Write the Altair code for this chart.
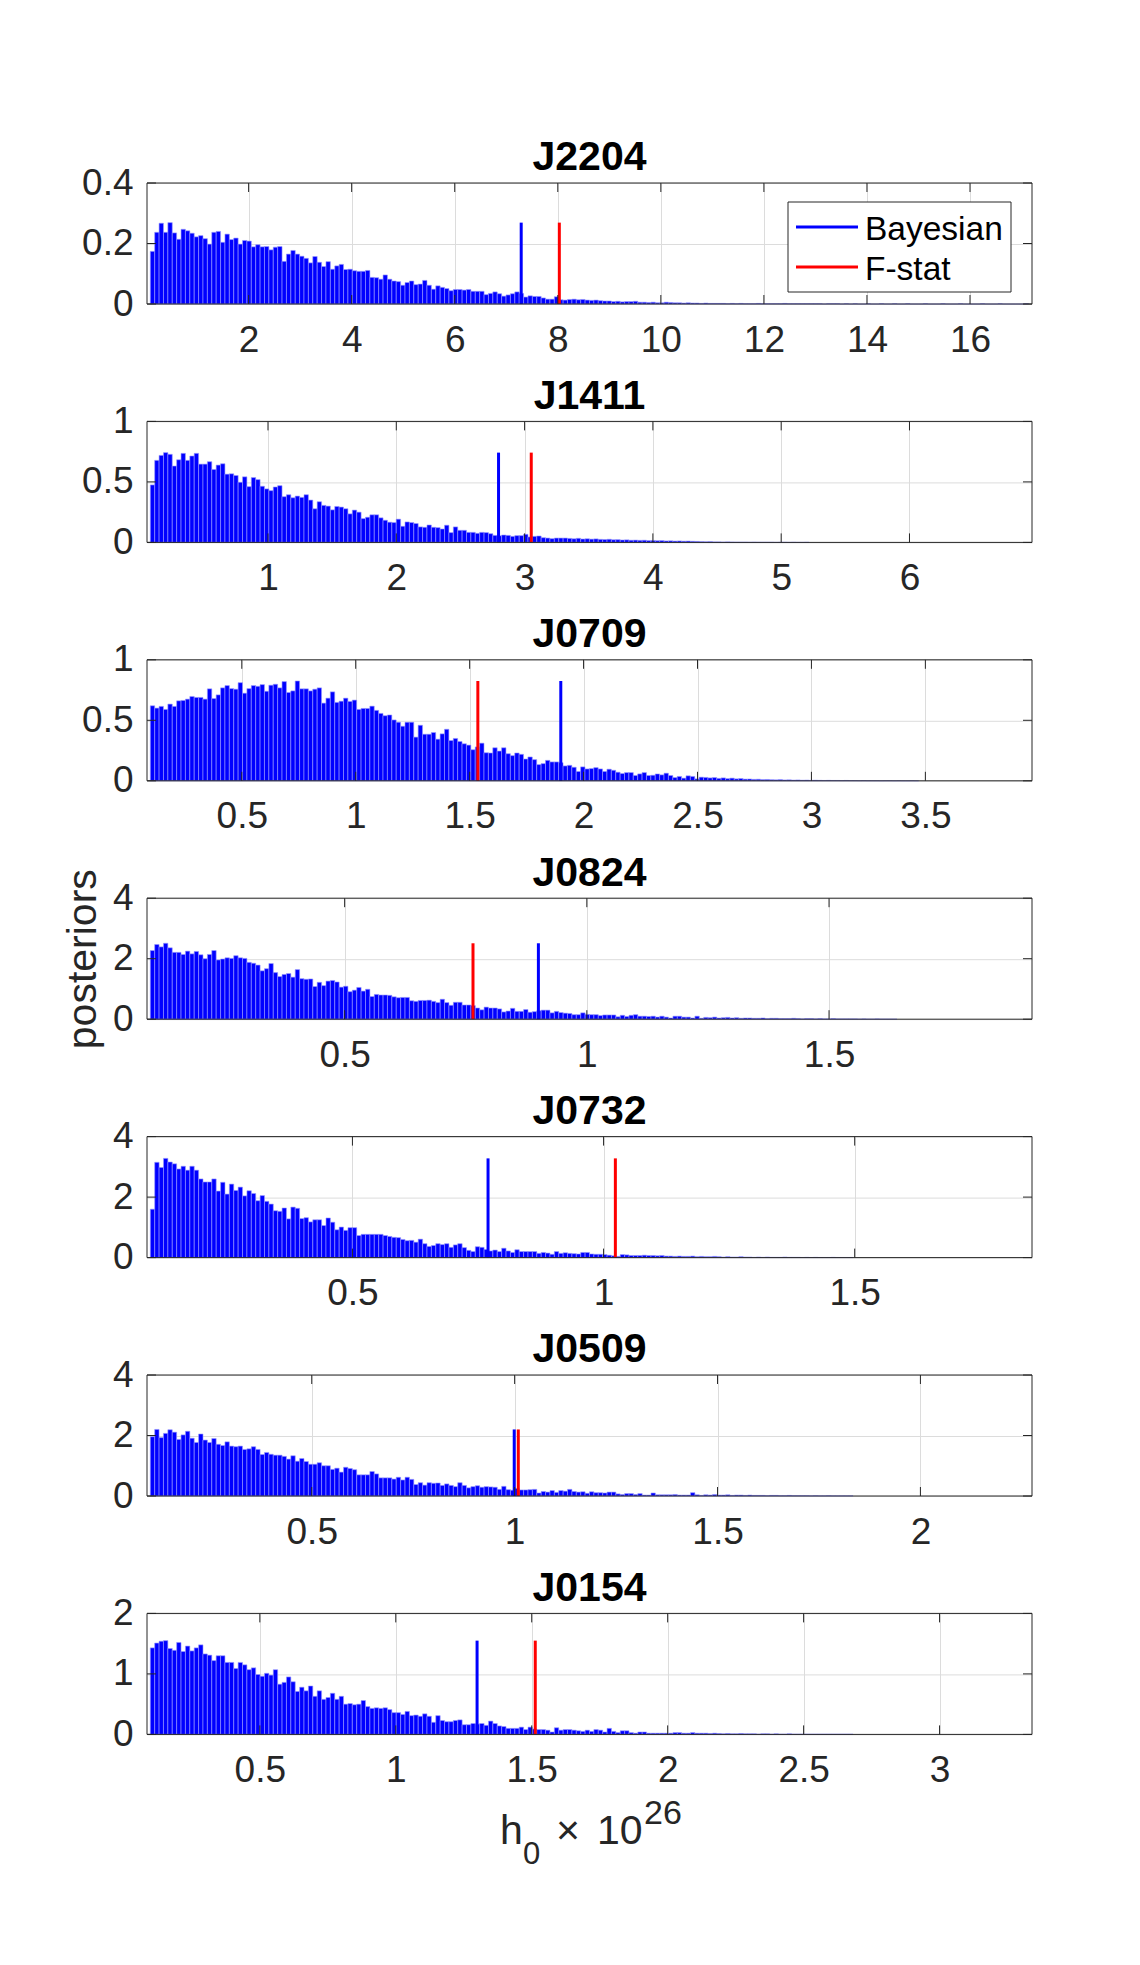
import altair as alt
import pandas as pd

FONT = "Liberation Sans"

names = ["J2204", "J1411", "J0709", "J0824", "J0732", "J0509", "J0154"]

h_J2204 = [
    0.174, 0.237, 0.267, 0.237, 0.269, 0.235, 0.214, 0.247, 0.242, 0.234,
    0.222, 0.226, 0.216, 0.198, 0.237, 0.240, 0.204, 0.231, 0.213, 0.218,
    0.198, 0.210, 0.208, 0.189, 0.196, 0.189, 0.190, 0.179, 0.188, 0.190,
    0.141, 0.165, 0.177, 0.165, 0.158, 0.151, 0.136, 0.157, 0.138, 0.124,
    0.140, 0.115, 0.126, 0.131, 0.114, 0.115, 0.110, 0.108, 0.108, 0.111,
    0.088, 0.087, 0.082, 0.096, 0.082, 0.076, 0.074, 0.062, 0.071, 0.076,
    0.064, 0.066, 0.078, 0.062, 0.049, 0.060, 0.055, 0.051, 0.044, 0.048,
    0.048, 0.046, 0.048, 0.042, 0.042, 0.042, 0.031, 0.035, 0.040, 0.034,
    0.026, 0.030, 0.034, 0.040, 0.035, 0.023, 0.027, 0.025, 0.025, 0.020,
    0.016, 0.016, 0.024, 0.014, 0.013, 0.015, 0.016, 0.014, 0.015, 0.013,
    0.012, 0.013, 0.011, 0.010, 0.010, 0.008, 0.009, 0.007, 0.008, 0.008,
    0.009, 0.006, 0.006, 0.005, 0.006, 0.004, 0.004, 0.006, 0.005, 0.004,
    0.004, 0.003, 0.004, 0.003, 0.003, 0.002, 0.003, 0.002, 0.002, 0.002,
    0.002, 0.001, 0.002, 0.001, 0.002, 0.001, 0.001, 0.001, 0.002, 0.001,
    0.001, 0.001, 0.001, 0.001, 0.002, 0.001, 0.001, 0.001, 0.001, 0.001,
    0.001, 0.001, 0.001, 0.0, 0.001, 0.001, 0.001, 0.0, 0.001, 0.0,
    0.001, 0.0, 0.0, 0.001, 0.0, 0.0, 0.001, 0.0, 0.0, 0.001,
    0.0, 0.0, 0.001, 0.0, 0.0, 0.0, 0.001, 0.0, 0.0, 0.0,
    0.001, 0.0, 0.0, 0.0, 0.001, 0.0, 0.0, 0.0, 0.0, 0.001,
    0.0, 0.0, 0.0, 0.001, 0.0, 0.0, 0.0, 0.0, 0.0, 0.001,
]

h_J1411 = [
    0.475, 0.678, 0.719, 0.742, 0.728, 0.631, 0.683, 0.736, 0.678, 0.714,
    0.736, 0.647, 0.647, 0.667, 0.603, 0.639, 0.650, 0.564, 0.567, 0.553,
    0.497, 0.542, 0.461, 0.536, 0.519, 0.464, 0.442, 0.428, 0.458, 0.469,
    0.378, 0.394, 0.369, 0.383, 0.372, 0.394, 0.350, 0.278, 0.336, 0.306,
    0.300, 0.269, 0.297, 0.292, 0.278, 0.236, 0.267, 0.250, 0.197, 0.208,
    0.228, 0.228, 0.203, 0.183, 0.167, 0.164, 0.192, 0.133, 0.169, 0.164,
    0.156, 0.128, 0.125, 0.144, 0.125, 0.122, 0.111, 0.142, 0.081, 0.128,
    0.100, 0.100, 0.083, 0.083, 0.075, 0.083, 0.081, 0.072, 0.058, 0.055,
    0.061, 0.058, 0.050, 0.056, 0.056, 0.067, 0.045, 0.050, 0.053, 0.039,
    0.036, 0.031, 0.036, 0.036, 0.036, 0.033, 0.030, 0.034, 0.028, 0.030,
    0.027, 0.029, 0.025, 0.024, 0.026, 0.022, 0.023, 0.020, 0.021, 0.018,
    0.019, 0.017, 0.018, 0.015, 0.016, 0.014, 0.015, 0.012, 0.013, 0.011,
    0.012, 0.010, 0.011, 0.009, 0.008, 0.006, 0.005, 0.006, 0.004, 0.004,
    0.003, 0.004, 0.003, 0.002, 0.002, 0.002, 0.001, 0.002, 0.001, 0.001,
    0.001, 0.001, 0.0, 0.001, 0.001, 0.0, 0.001, 0.0, 0.0, 0.001,
]

h_J0709 = [
    0.620, 0.601, 0.615, 0.590, 0.634, 0.615, 0.661, 0.664, 0.675, 0.697,
    0.689, 0.689, 0.675, 0.760, 0.680, 0.710, 0.768, 0.787, 0.762, 0.757,
    0.811, 0.724, 0.762, 0.787, 0.781, 0.795, 0.740, 0.790, 0.798, 0.768,
    0.820, 0.730, 0.743, 0.825, 0.760, 0.760, 0.743, 0.757, 0.768, 0.642,
    0.683, 0.735, 0.648, 0.658, 0.683, 0.656, 0.667, 0.590, 0.598, 0.598,
    0.617, 0.582, 0.557, 0.538, 0.544, 0.503, 0.484, 0.451, 0.484, 0.484,
    0.361, 0.459, 0.385, 0.385, 0.399, 0.344, 0.388, 0.426, 0.333, 0.350,
    0.325, 0.306, 0.295, 0.257, 0.280, 0.311, 0.232, 0.230, 0.273, 0.246,
    0.273, 0.224, 0.208, 0.230, 0.219, 0.180, 0.197, 0.175, 0.134, 0.142,
    0.169, 0.156, 0.156, 0.150, 0.123, 0.128, 0.112, 0.077, 0.115, 0.098,
    0.101, 0.109, 0.098, 0.077, 0.096, 0.087, 0.071, 0.060, 0.068, 0.068,
    0.044, 0.057, 0.068, 0.044, 0.046, 0.057, 0.049, 0.063, 0.044, 0.027,
    0.036, 0.022, 0.041, 0.036, 0.016, 0.030, 0.028, 0.024, 0.027, 0.020,
    0.024, 0.018, 0.022, 0.016, 0.019, 0.014, 0.015, 0.012, 0.013, 0.010,
    0.011, 0.009, 0.008, 0.010, 0.007, 0.008, 0.006, 0.007, 0.005, 0.006,
    0.004, 0.005, 0.004, 0.003, 0.004, 0.003, 0.003, 0.002, 0.003, 0.002,
    0.002, 0.001, 0.002, 0.001, 0.001, 0.001, 0.0, 0.001, 0.001, 0.0,
    0.001, 0.0, 0.0, 0.001, 0.0,
]

h_J0824 = [
    2.27, 2.47, 2.39, 2.51, 2.36, 2.21, 2.21, 2.14, 2.25, 2.16,
    2.24, 2.13, 2.00, 2.14, 2.27, 1.96, 1.99, 2.03, 2.01, 2.10,
    2.03, 2.01, 1.88, 1.85, 1.79, 1.60, 1.67, 1.84, 1.54, 1.41,
    1.48, 1.51, 1.39, 1.64, 1.34, 1.32, 1.33, 1.08, 1.22, 1.11,
    1.26, 1.28, 1.23, 1.06, 1.09, 0.91, 0.96, 1.05, 0.93, 0.99,
    0.75, 0.82, 0.80, 0.80, 0.79, 0.74, 0.71, 0.72, 0.72, 0.61,
    0.59, 0.62, 0.62, 0.63, 0.59, 0.55, 0.66, 0.55, 0.46, 0.56,
    0.56, 0.47, 0.47, 0.45, 0.37, 0.31, 0.40, 0.37, 0.37, 0.34,
    0.24, 0.27, 0.36, 0.26, 0.26, 0.32, 0.23, 0.25, 0.28, 0.30,
    0.30, 0.21, 0.26, 0.22, 0.20, 0.19, 0.15, 0.15, 0.21, 0.16,
    0.15, 0.15, 0.12, 0.14, 0.14, 0.14, 0.08, 0.13, 0.09, 0.13,
    0.15, 0.10, 0.10, 0.09, 0.10, 0.07, 0.10, 0.07, 0.04, 0.10,
    0.10, 0.07, 0.07, 0.04, 0.10, 0.03, 0.06, 0.05, 0.07, 0.04,
    0.05, 0.06, 0.04, 0.05, 0.03, 0.04, 0.04, 0.03, 0.03, 0.04,
    0.02, 0.03, 0.03, 0.02, 0.02, 0.02, 0.03, 0.02, 0.01, 0.02,
    0.02, 0.01, 0.02, 0.01, 0.01, 0.02, 0.01, 0.01, 0.01, 0.01,
    0.01, 0.005, 0.01, 0.005, 0.005, 0.01, 0.005, 0.005, 0.005, 0.005,
]

h_J0732 = [
    1.60, 3.15, 2.98, 3.28, 3.16, 3.10, 2.93, 3.02, 2.89, 3.02,
    2.89, 2.60, 2.50, 2.50, 2.60, 2.20, 2.49, 2.10, 2.43, 2.22,
    2.33, 2.04, 2.21, 2.12, 1.88, 2.05, 1.86, 1.77, 1.55, 1.53,
    1.64, 1.28, 1.67, 1.63, 1.29, 1.32, 1.18, 1.25, 1.25, 1.06,
    1.31, 1.17, 0.92, 1.01, 0.90, 0.99, 0.99, 0.73, 0.77, 0.77,
    0.77, 0.77, 0.77, 0.73, 0.70, 0.67, 0.66, 0.60, 0.56, 0.57,
    0.51, 0.61, 0.46, 0.37, 0.40, 0.46, 0.43, 0.46, 0.34, 0.42,
    0.46, 0.33, 0.24, 0.20, 0.36, 0.34, 0.27, 0.22, 0.25, 0.20,
    0.31, 0.22, 0.17, 0.26, 0.20, 0.20, 0.20, 0.20, 0.14, 0.17,
    0.15, 0.11, 0.20, 0.14, 0.16, 0.14, 0.13, 0.12, 0.17, 0.17,
    0.12, 0.11, 0.11, 0.10, 0.08, 0.06, 0.04, 0.10, 0.09, 0.07,
    0.07, 0.07, 0.08, 0.07, 0.07, 0.06, 0.07, 0.05, 0.05, 0.04,
    0.05, 0.04, 0.04, 0.05, 0.03, 0.04, 0.03, 0.03, 0.04, 0.03,
    0.02, 0.03, 0.02, 0.02, 0.03, 0.02, 0.02, 0.01, 0.02, 0.01,
    0.02, 0.01, 0.01, 0.01, 0.02, 0.01, 0.01, 0.01, 0.005, 0.01,
    0.005, 0.01, 0.005, 0.005, 0.005, 0.01, 0.005, 0.005, 0.005, 0.005,
]

h_J0509 = [
    1.96, 2.20, 1.93, 2.07, 2.19, 2.11, 1.87, 2.02, 2.14, 1.91,
    1.77, 2.05, 1.85, 1.77, 1.90, 1.71, 1.67, 1.79, 1.65, 1.63,
    1.65, 1.54, 1.56, 1.63, 1.54, 1.37, 1.44, 1.38, 1.35, 1.35,
    1.31, 1.22, 1.33, 1.15, 1.24, 1.14, 1.05, 1.05, 1.10, 1.00,
    1.00, 0.88, 0.92, 0.79, 0.95, 0.91, 0.87, 0.70, 0.70, 0.70,
    0.81, 0.73, 0.60, 0.60, 0.60, 0.56, 0.62, 0.53, 0.62, 0.55,
    0.38, 0.44, 0.36, 0.44, 0.42, 0.43, 0.35, 0.40, 0.35, 0.31,
    0.44, 0.35, 0.27, 0.31, 0.34, 0.29, 0.31, 0.30, 0.29, 0.22,
    0.32, 0.21, 0.19, 0.25, 0.20, 0.20, 0.21, 0.22, 0.10, 0.15,
    0.13, 0.18, 0.12, 0.18, 0.16, 0.22, 0.15, 0.13, 0.14, 0.09,
    0.14, 0.11, 0.11, 0.10, 0.13, 0.13, 0.07, 0.05, 0.08, 0.08,
    0.05, 0.08, 0.03, 0.03, 0.10, 0.04, 0.04, 0.04, 0.04, 0.05,
    0.03, 0.03, 0.03, 0.11, 0.04, 0.02, 0.04, 0.03, 0.05, 0.03,
    0.03, 0.04, 0.02, 0.03, 0.03, 0.02, 0.03, 0.02, 0.02, 0.02,
    0.01, 0.02, 0.02, 0.01, 0.01, 0.02, 0.01, 0.01, 0.01, 0.01,
    0.005, 0.01, 0.005, 0.005, 0.01, 0.005, 0.005, 0.005, 0.005, 0.005,
]

h_J0154 = [
    1.43, 1.51, 1.54, 1.55, 1.42, 1.39, 1.52, 1.37, 1.46, 1.38,
    1.43, 1.48, 1.33, 1.31, 1.22, 1.30, 1.30, 1.19, 1.19, 1.09,
    1.19, 1.15, 1.07, 1.10, 0.99, 0.96, 1.01, 0.98, 1.07, 0.83,
    0.86, 0.95, 0.87, 0.71, 0.78, 0.72, 0.80, 0.63, 0.72, 0.58,
    0.61, 0.68, 0.58, 0.63, 0.50, 0.51, 0.49, 0.50, 0.56, 0.46,
    0.43, 0.44, 0.43, 0.44, 0.41, 0.36, 0.36, 0.33, 0.38, 0.31,
    0.32, 0.30, 0.34, 0.30, 0.20, 0.31, 0.23, 0.21, 0.21, 0.23,
    0.24, 0.16, 0.16, 0.18, 0.17, 0.18, 0.15, 0.22, 0.18, 0.14,
    0.13, 0.10, 0.10, 0.10, 0.12, 0.08, 0.12, 0.09, 0.08, 0.08,
    0.07, 0.04, 0.11, 0.07, 0.08, 0.08, 0.07, 0.06, 0.05, 0.07,
    0.05, 0.08, 0.07, 0.04, 0.10, 0.05, 0.03, 0.06, 0.06, 0.03,
    0.02, 0.04, 0.04, 0.02, 0.02, 0.02, 0.02, 0.02, 0.02, 0.03,
    0.03, 0.02, 0.02, 0.03, 0.02, 0.02, 0.02, 0.015, 0.02, 0.015,
    0.01, 0.015, 0.01, 0.01, 0.015, 0.01, 0.01, 0.01, 0.005, 0.01,
    0.01, 0.005, 0.01, 0.005, 0.005, 0.01, 0.005, 0.005, 0.005, 0.005,
    0.005, 0.005, 0.005, 0.005, 0.005, 0.005, 0.005, 0.005, 0.005, 0.005,
]

heights = [h_J2204, h_J1411, h_J0709, h_J0824, h_J0732, h_J0509, h_J0154]

# histogram bins: left edge of first bin and bin width
bin_start = [0.092, 0.0827, 0.0985, 0.0988, 0.0976, 0.1021, 0.0971]
bin_width = [0.08523, 0.03423, 0.01927, 0.009067, 0.008744, 0.010824, 0.016154]

x_domain = [[0.028, 17.203], [0.057, 6.955], [0.084, 3.968], [0.092, 1.919],
            [0.091, 1.853], [0.094, 2.275], [0.085, 3.340]]
y_domain = [[0, 0.4], [0, 1], [0, 1], [0, 4], [0, 4], [0, 4], [0, 2]]
x_ticks = [[2, 4, 6, 8, 10, 12, 14, 16], [1, 2, 3, 4, 5, 6],
           [0.5, 1, 1.5, 2, 2.5, 3, 3.5], [0.5, 1, 1.5], [0.5, 1, 1.5],
           [0.5, 1, 1.5, 2], [0.5, 1, 1.5, 2, 2.5, 3]]
y_ticks = [[0, 0.2, 0.4], [0, 0.5, 1], [0, 0.5, 1], [0, 2, 4], [0, 2, 4],
           [0, 2, 4], [0, 1, 2]]

bayesian_x = [7.29, 2.797, 1.900, 0.900, 0.770, 0.999, 1.299]
fstat_x = [8.03, 3.052, 1.536, 0.765, 1.0235, 1.009, 1.513]

legend_labels = ["Bayesian", "F-stat"]
legend_colors = ["#0000ff", "#ff0000"]

y_label = "posteriors"
x_label_parts = ["h", "0", "\u00d7", "10", "26"]

W, H = 885, 121
TICK = 9
DARK = "#262626"
GRID = "#dcdcdc"
FS_TICK = 37
FS_TITLE = 41


def panel(i):
    h = heights[i]
    x0 = [bin_start[i] + k * bin_width[i] for k in range(len(h))]
    x1 = [bin_start[i] + (k + 1) * bin_width[i] for k in range(len(h))]
    bars_df = pd.DataFrame({"x0": x0, "x1": x1, "h": h, "base": [0.0] * len(h)})
    xs = alt.Scale(domain=x_domain[i], nice=False, zero=False)
    ys = alt.Scale(domain=y_domain[i], nice=False, zero=False)

    xaxis = alt.Axis(values=x_ticks[i], grid=True, ticks=False, domain=False,
                     labelFontSize=FS_TICK, labelFont=FONT, labelColor=DARK,
                     labelPadding=18, labelFlush=False, format="~g",
                     gridColor=GRID, gridWidth=1, title="")
    if i == 3:
        ytitle = dict(title=y_label, titleFont=FONT, titleFontSize=FS_TITLE,
                      titleFontWeight="normal", titleColor=DARK, titlePadding=8)
    else:
        ytitle = dict(title="")
    yaxis = alt.Axis(values=y_ticks[i], grid=True, ticks=False, domain=False,
                     labelFontSize=FS_TICK, labelFont=FONT, labelColor=DARK,
                     labelPadding=14, labelFlush=False, format="~g",
                     gridColor=GRID, gridWidth=1, **ytitle)

    bars = alt.Chart(bars_df).mark_rect(
        fill="#0000ff", stroke="#9a9aff", strokeWidth=0.6
    ).encode(
        x=alt.X("x0:Q", scale=xs, axis=xaxis),
        x2="x1:Q",
        y=alt.Y("h:Q", scale=ys, axis=yaxis),
        y2="base:Q",
    )

    top = max(h)
    lines_df = pd.DataFrame({
        "x": [bayesian_x[i], fstat_x[i]],
        "top": [top, top],
        "base": [0.0, 0.0],
        "c": legend_colors,
    })
    lines = alt.Chart(lines_df).mark_rule(strokeWidth=3).encode(
        x=alt.X("x:Q", scale=xs, axis=xaxis),
        y=alt.Y("top:Q", scale=ys, axis=yaxis),
        y2="base:Q",
        color=alt.Color("c:N", scale=None),
    )

    xt = pd.DataFrame({"v": x_ticks[i]})
    yt = pd.DataFrame({"v": y_ticks[i]})
    tick_layers = [
        alt.Chart(xt).mark_rule(color=DARK, strokeWidth=1).encode(
            x=alt.X("v:Q", scale=xs, axis=xaxis), y=alt.value(0), y2=alt.value(TICK)),
        alt.Chart(xt).mark_rule(color=DARK, strokeWidth=1).encode(
            x=alt.X("v:Q", scale=xs, axis=xaxis), y=alt.value(H), y2=alt.value(H - TICK)),
        alt.Chart(yt).mark_rule(color=DARK, strokeWidth=1).encode(
            y=alt.Y("v:Q", scale=ys, axis=yaxis), x=alt.value(0), x2=alt.value(TICK)),
        alt.Chart(yt).mark_rule(color=DARK, strokeWidth=1).encode(
            y=alt.Y("v:Q", scale=ys, axis=yaxis), x=alt.value(W), x2=alt.value(W - TICK)),
    ]

    one = pd.DataFrame({"a": [0]})
    frame = alt.Chart(one).mark_rect(fillOpacity=0, stroke=DARK, strokeWidth=1).encode(
        x=alt.value(0), x2=alt.value(W), y=alt.value(0), y2=alt.value(H))

    title_df = pd.DataFrame({"name": [names[i]]})
    title = alt.Chart(title_df).mark_text(
        align="center", baseline="alphabetic", fontSize=FS_TITLE,
        fontWeight="bold", font=FONT, color="black"
    ).encode(text="name:N", x=alt.value(W / 2), y=alt.value(-12.7))

    layers = [bars, lines] + tick_layers + [frame, title]

    if i == 0:
        box = alt.Chart(one).mark_rect(fill="white", stroke=DARK, strokeWidth=1).encode(
            x=alt.value(641), x2=alt.value(864), y=alt.value(19), y2=alt.value(109))
        layers.append(box)
        for k, (lab, col) in enumerate(zip(legend_labels, legend_colors)):
            yy = 44 + 40 * k
            ldf = pd.DataFrame({"label": [lab]})
            layers.append(alt.Chart(ldf).mark_rule(color=col, strokeWidth=3).encode(
                x=alt.value(649), x2=alt.value(711), y=alt.value(yy)))
            layers.append(alt.Chart(ldf).mark_text(
                align="left", baseline="alphabetic", fontSize=33.5, font=FONT,
                color="black").encode(
                text="label:N", x=alt.value(718), y=alt.value(yy + 12.5)))

    if i == 6:
        specs = [  # part, x, baseline y, size, align
            (x_label_parts[0], 353, 230.7, 41, "left"),
            (x_label_parts[1], 376, 250.7, 31, "left"),
            (x_label_parts[2], 421, 230.7, 41, "center"),
            (x_label_parts[3], 450, 230.7, 41, "left"),
            (x_label_parts[4], 497, 210.7, 34, "left"),
        ]
        for txt, xx, yy, fs, al in specs:
            tdf = pd.DataFrame({"t": [txt]})
            layers.append(alt.Chart(tdf).mark_text(
                align=al, baseline="alphabetic", fontSize=fs, font=FONT,
                color=DARK).encode(text="t:N", x=alt.value(xx), y=alt.value(yy)))

    return alt.layer(*layers).properties(width=W, height=H)


chart = alt.vconcat(*[panel(i) for i in range(7)], spacing=117.4,
                    bounds="flush").resolve_scale(
    x="independent", y="independent"
).configure(
    background="white",
    padding={"left": 54, "top": 129, "right": 5, "bottom": 5},
).configure_view(stroke=None)

chart.save("out.html", embed_options={"renderer": "svg", "actions": False})
